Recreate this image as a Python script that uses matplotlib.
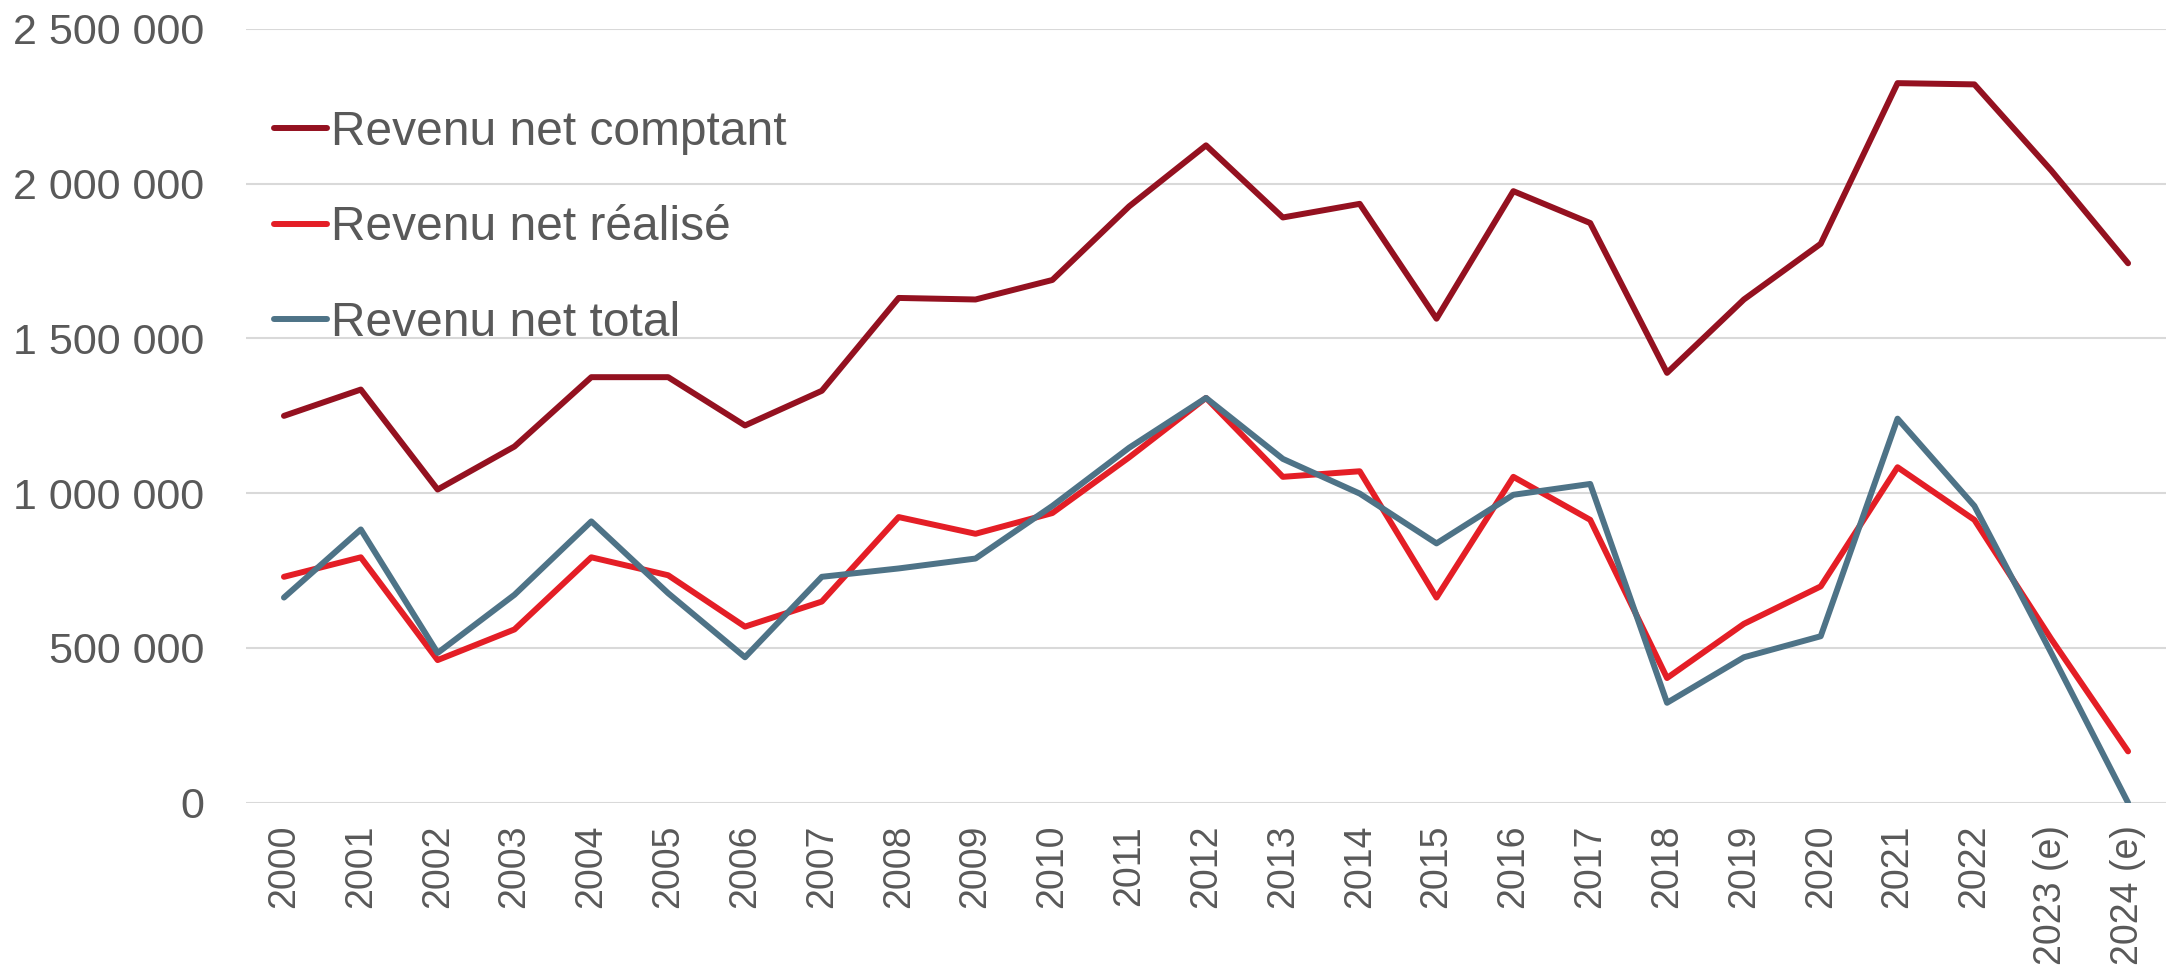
import matplotlib
matplotlib.use('Agg')
import matplotlib.pyplot as plt
from matplotlib.ticker import FuncFormatter

years = ['2000', '2001', '2002', '2003', '2004', '2005', '2006', '2007', '2008',
         '2009', '2010', '2011', '2012', '2013', '2014', '2015', '2016', '2017',
         '2018', '2019', '2020', '2021', '2022', '2023 (e)', '2024 (e)']

comptant = [1250000, 1335000, 1012000, 1151000, 1375000, 1375000, 1219000,
            1331000, 1631000, 1626000, 1689000, 1927000, 2124000, 1891000,
            1935000, 1564000, 1976000, 1873000, 1389000, 1626000, 1806000,
            2325000, 2321000, 2043000, 1743000]

realise = [730000, 793000, 461000, 560000, 793000, 735000, 569000, 650000,
           923000, 869000, 936000, 1116000, 1308000, 1053000, 1071000, 663000,
           1053000, 914000, 403000, 578000, 699000, 1084000, 914000, 529000,
           166000]

total = [663000, 883000, 484000, 672000, 909000, 677000, 470000, 730000,
         757000, 789000, 959000, 1147000, 1308000, 1111000, 999000, 838000,
         995000, 1030000, 323000, 470000, 538000, 1241000, 959000, 484000, 0]

plt.rcParams['font.family'] = ['Liberation Sans', 'DejaVu Sans']
grey = '#595959'

fig = plt.figure(figsize=(21.73, 9.66), dpi=100)
ax = fig.add_axes([0.113, 0.169, 0.884, 0.801])

x = list(range(len(years)))
ax.plot(x, comptant, color='#941120', lw=4.3, label='Revenu net comptant', solid_capstyle='round')
ax.plot(x, realise, color='#E41E26', lw=4.3, label='Revenu net réalisé', solid_capstyle='round')
ax.plot(x, total, color='#4E7387', lw=4.3, label='Revenu net total', solid_capstyle='round')

ax.set_xlim(-0.5, len(years) - 0.5)
ax.set_ylim(0, 2500000)
ax.set_yticks(range(0, 2500001, 500000))
ax.yaxis.set_major_formatter(FuncFormatter(lambda v, p: f'{int(v):,}'.replace(',', ' ')))
ax.set_xticks(x)
ax.set_xticklabels(years, rotation=90)
ax.tick_params(axis='both', length=0, colors=grey)
ax.tick_params(axis='y', labelsize=31, pad=30)
ax.tick_params(axis='x', labelsize=27, pad=16)
ax.grid(axis='y', color='#D9D9D9', lw=1.5)
ax.set_axisbelow(True)
for s in ax.spines.values():
    s.set_visible(False)

leg = ax.legend(loc='upper left', bbox_to_anchor=(0.005, 0.92), frameon=False,
                fontsize=34.5, handlelength=1.1, handletextpad=0.08,
                labelspacing=1.05, borderaxespad=0)
for t in leg.get_texts():
    t.set_color(grey)

fig.savefig('out.png', dpi=100)
